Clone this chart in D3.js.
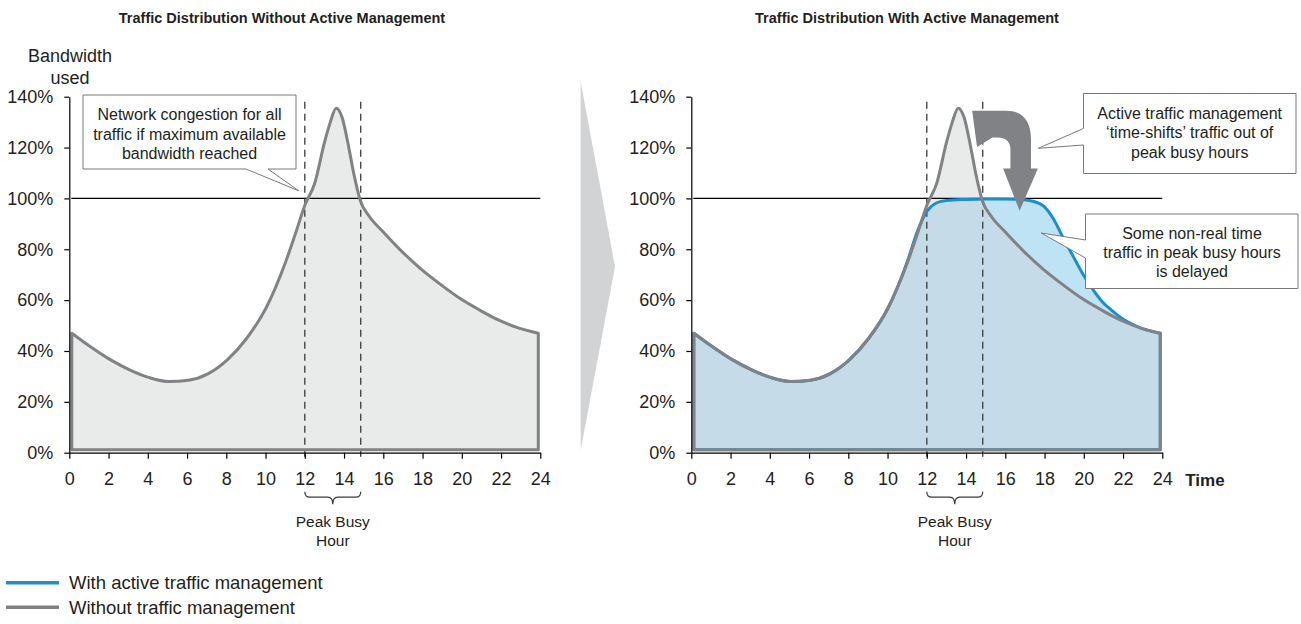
<!DOCTYPE html>
<html>
<head>
<meta charset="utf-8">
<script src="https://cdn.jsdelivr.net/npm/d3@7/dist/d3.min.js"></script>
<style>
  html, body { margin: 0; padding: 0; background: #ffffff; }
  svg { display: block; font-family: "Liberation Sans", Arial, Helvetica, sans-serif; }
</style>
</head>
<body>
<svg id="chart" width="1301" height="624"></svg>
<script>
// Hour of day (x) and bandwidth used in % of capacity (y)
const hoursWithout  = [0, 1, 2, 3, 4, 5, 6, 7, 8, 9, 10, 11, 11.5, 12, 12.5, 13, 13.3, 13.6, 13.9, 14.2, 14.5, 14.85, 15.3, 16, 17, 18, 19, 20, 21, 22, 23, 24];
const valuesWithout = [47, 41.5, 36.5, 32.5, 29.5, 28, 28.5, 31, 36.5, 45, 57, 75, 86, 97.5, 106, 122, 130, 135.5, 132, 122, 110, 99, 93, 87, 79, 72, 66, 60.5, 56, 52, 49, 47];

const hoursWith  = [0, 1, 2, 3, 4, 5, 6, 7, 8, 9, 10, 11, 11.5, 12, 12.5, 13, 14, 15, 16, 17, 17.5, 18, 18.5, 19, 19.5, 20, 20.5, 21, 21.5, 22, 22.5, 23, 23.5, 24];
const valuesWith = [47, 41.5, 36.5, 32.5, 29.5, 28, 28.5, 31, 36.5, 45, 57, 75.5, 87, 95, 98.3, 99.2, 99.6, 99.8, 99.8, 99.5, 98.8, 97, 92, 84.5, 77.5, 70.5, 64.5, 59.5, 56, 53, 50.8, 49, 47.8, 47];

const hourTicks = [0, 2, 4, 6, 8, 10, 12, 14, 16, 18, 20, 22, 24];
const pctTicks  = [0, 20, 40, 60, 80, 100, 120, 140];
const capacity  = 100;           // maximum available bandwidth
const peakStart = 12, peakEnd = 14.85;

const titles = ["Traffic Distribution Without Active Management", "Traffic Distribution With Active Management"];
const legendLabels = ["With active traffic management", "Without traffic management"];

const GREY = "#808285", BLUE = "#1a8fd0", INK = "#231f20";
const FILL_GREY = "#e9eaea", FILL_BLUE = "#bde3f5", FILL_BOTH = "#c5dbe7";

const svg = d3.select("#chart");
const y = d3.scaleLinear().domain([0, 140]).range([452.7, 96.7]);
const xL = d3.scaleLinear().domain([0, 24]).range([69.3, 540.3]);
const xR = d3.scaleLinear().domain([0, 24]).range([691.3, 1162.3]);

const without = hoursWithout.map((h, i) => [h, valuesWithout[i]]);
const withMgmt = hoursWith.map((h, i) => [h, valuesWith[i]]);

// separator chevron between the two panels
svg.append("polygon")
  .attr("points", [[580.7, 81.7], [615, 266.7], [580.7, 450]].map(p => p.join(",")).join(" "))
  .attr("fill", "#d1d3d4");

function areaGen(x) {
  // outline sits just inside the axes
  const xa = x.copy().range([x(0) + 2.5, x(24) - 2]);
  return d3.area()
    .x(d => xa(d[0]))
    .y0(y(0) - 3)
    .y1(d => y(d[1]))
    .curve(d3.curveMonotoneX);
}

function drawAxes(g, x) {
  const ya = g.append("g").attr("transform", `translate(${x(0)},0)`)
    .call(d3.axisLeft(y).tickValues(pctTicks).tickFormat(d => d + "%").tickSize(5).tickSizeOuter(0).tickPadding(11));
  const xa = g.append("g").attr("transform", `translate(0,${y(0)})`)
    .call(d3.axisBottom(x).tickValues(hourTicks).tickSize(6).tickSizeOuter(0).tickPadding(14));
  [ya, xa].forEach(a => {
    a.selectAll("path.domain").attr("stroke", "#000").attr("stroke-width", 1.2);
    a.selectAll(".tick line").attr("stroke", "#000").attr("stroke-width", 1.2);
    a.selectAll(".tick text").attr("fill", INK).style("font-size", "18px").style("font-family", "'Liberation Sans', Arial, sans-serif");
  });
}

function drawGuides(g, x) {
  // capacity line
  g.append("line")
    .attr("x1", x(0) + 2).attr("x2", x(24))
    .attr("y1", y(capacity)).attr("y2", y(capacity))
    .attr("stroke", "#000").attr("stroke-width", 1.2);
  // peak busy hour window
  [peakStart, peakEnd].forEach(h => {
    g.append("line")
      .attr("x1", x(h)).attr("x2", x(h))
      .attr("y1", y(138)).attr("y2", y(0) + 6)
      .attr("stroke", "#3a3a3a").attr("stroke-width", 1.3)
      .attr("stroke-dasharray", "7,5");
  });
  // brace + label
  const a = x(peakStart), b = x(peakEnd), m = (a + b) / 2, top = y(0) + 39;
  const r = 5, d = 5.5;
  g.append("path")
    .attr("d", `M${a},${top} q0,${d} ${r},${d} H${m - r} q${r},0 ${r},${d + 1.5} q0,${-(d + 1.5)} ${r},${-(d + 1.5)} H${b - r} q${r},0 ${r},${-d}`)
    .attr("fill", "none").attr("stroke", "#3a3a3a").attr("stroke-width", 1.2);
  const t = g.append("text").attr("text-anchor", "middle").attr("fill", INK).style("font-size", "15.5px");
  t.append("tspan").attr("x", m).attr("y", top + 35).text("Peak Busy");
  t.append("tspan").attr("x", m).attr("y", top + 54).text("Hour");
}

function callout(lines, box, pointer, tip, cx, firstY, lineH) {
  const [x0, y0, x1, y1] = box;
  let dPath;
  if (pointer.side === "bottom") {
    dPath = `M${x0},${y0} H${x1} V${y1} H${pointer.b} L${tip[0]},${tip[1]} L${pointer.a},${y1} H${x0} Z`;
  } else {
    dPath = `M${x0},${y0} H${x1} V${y1} H${x0} V${pointer.b} L${tip[0]},${tip[1]} L${x0},${pointer.a} Z`;
  }
  svg.append("path").attr("d", dPath).attr("fill", "#fff").attr("stroke", "#7a7a7a").attr("stroke-width", 1);
  const t = svg.append("text").attr("text-anchor", "middle").attr("fill", INK).style("font-size", "16px");
  lines.forEach((s, i) => t.append("tspan").attr("x", cx).attr("y", firstY + i * lineH).text(s));
}

// ---------- left panel: without management ----------
const gL = svg.append("g");
gL.append("path").attr("d", areaGen(xL)(without)).attr("fill", FILL_GREY);
drawGuides(gL, xL);
gL.append("path").attr("d", areaGen(xL)(without))
  .attr("fill", "none").attr("stroke", GREY).attr("stroke-width", 3).attr("stroke-linejoin", "round");
drawAxes(gL, xL);

// ---------- right panel: with management ----------
const gR = svg.append("g");
svg.append("clipPath").attr("id", "clipWith")
  .append("path").attr("d", areaGen(xR)(withMgmt));
gR.append("path").attr("d", areaGen(xR)(without)).attr("fill", FILL_GREY);
gR.append("path").attr("d", areaGen(xR)(withMgmt)).attr("fill", FILL_BLUE);
gR.append("path").attr("d", areaGen(xR)(without)).attr("fill", FILL_BOTH).attr("clip-path", "url(#clipWith)");
drawGuides(gR, xR);
gR.append("path").attr("d", areaGen(xR)(withMgmt))
  .attr("fill", "none").attr("stroke", BLUE).attr("stroke-width", 3).attr("stroke-linejoin", "round");
gR.append("path").attr("d", areaGen(xR)(without))
  .attr("fill", "none").attr("stroke", GREY).attr("stroke-width", 3).attr("stroke-linejoin", "round");
drawAxes(gR, xR);

// time-shift arrow
const ap = d3.path();
ap.moveTo(xR(14.31), y(134.5));
ap.lineTo(xR(16.0), y(134.5));
ap.bezierCurveTo(xR(16.9), y(134.5), xR(17.31), y(130.5), xR(17.31), y(123));
ap.lineTo(xR(17.31), y(111.8));
ap.lineTo(xR(17.66), y(111.8));
ap.lineTo(xR(16.73), y(95.1));
ap.lineTo(xR(15.89), y(111.8));
ap.lineTo(xR(16.26), y(111.8));
ap.lineTo(xR(16.26), y(119.5));
ap.bezierCurveTo(xR(16.26), y(122.5), xR(16.0), y(124), xR(15.6), y(124));
ap.lineTo(xR(15.34), y(124));
ap.lineTo(xR(14.56), y(120.2));
ap.closePath();
svg.append("path").attr("d", ap.toString()).attr("fill", GREY);

// ---------- titles & labels ----------
svg.append("text").attr("x", 282).attr("y", 23).attr("text-anchor", "middle")
  .attr("fill", INK).style("font-size", "14.5px").style("font-weight", "bold").text(titles[0]);
svg.append("text").attr("x", 907).attr("y", 23).attr("text-anchor", "middle")
  .attr("fill", INK).style("font-size", "14.5px").style("font-weight", "bold").text(titles[1]);

const yt = svg.append("text").attr("text-anchor", "middle").attr("fill", INK).style("font-size", "18px");
yt.append("tspan").attr("x", 70).attr("y", 62).text("Bandwidth");
yt.append("tspan").attr("x", 70).attr("y", 84).text("used");

svg.append("text").attr("x", xR(24) + 23).attr("y", y(0) + 33).attr("fill", INK)
  .style("font-size", "17px").style("font-weight", "bold").text("Time");

// ---------- callouts ----------
callout(["Network congestion for all", "traffic if maximum available", "bandwidth reached"],
  [83, 95, 296, 169], { side: "bottom", a: 246, b: 268 }, [xL(11.69), y(103)], 189.5, 120, 19.5);
callout(["Active traffic management", "\u2018time-shifts\u2019 traffic out of", "peak busy hours"],
  [1083.5, 93.5, 1296, 173.5], { side: "left", a: 128.5, b: 145 }, [xR(17.68), y(119.7)], 1189.7, 119, 19.3);
callout(["Some non-real time", "traffic in peak busy hours", "is delayed"],
  [1085.5, 214, 1298, 288.5], { side: "left", a: 240, b: 258 }, [xR(17.83), y(86.4)], 1192, 238.5, 19);

// ---------- legend ----------
const legendColors = [BLUE, GREY];
legendLabels.forEach((lab, i) => {
  const ly = 582.7 + i * 24.5;
  svg.append("line").attr("x1", 6).attr("x2", 59).attr("y1", ly).attr("y2", ly)
    .attr("stroke", legendColors[i]).attr("stroke-width", 3.5);
  svg.append("text").attr("x", 69).attr("y", ly + 6.5).attr("fill", INK)
    .style("font-size", "18.5px").text(lab);
});
</script>
</body>
</html>
